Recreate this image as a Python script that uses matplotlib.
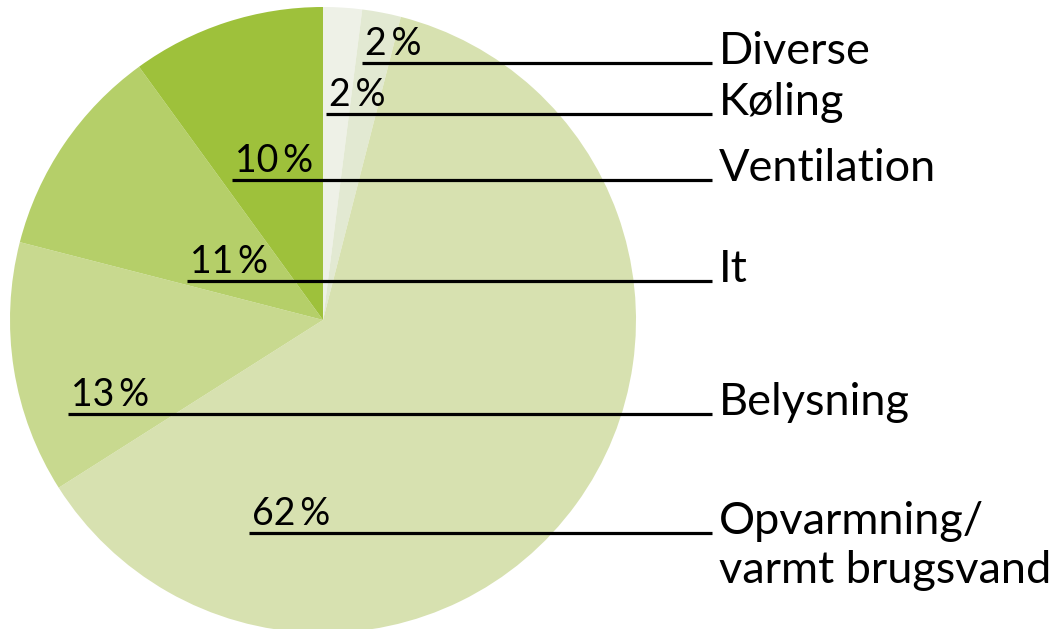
import matplotlib
matplotlib.use("Agg")
import matplotlib.pyplot as plt

# Data (clockwise from 12 o'clock)
categories = ["Diverse", "Køling", "Opvarmning/\nvarmt brugsvand", "Belysning", "It", "Ventilation"]
values = [2, 2, 62, 13, 11, 10]
colors = ["#eef1e7", "#e2e9d2", "#d7e1b0", "#c8d98f", "#b5cf69", "#9ec13b"]

W, H = 1059, 629
fig = plt.figure(figsize=(W / 100, H / 100), dpi=100)
ax = fig.add_axes([0, 0, 1, 1])

cx, cy, r = 323, H - 320, 313
ax.pie(values, colors=colors, startangle=90, counterclock=False,
       center=(cx, cy), radius=r, frame=True,
       wedgeprops=dict(linewidth=0))
ax.set_xlim(0, W)
ax.set_ylim(0, H)
ax.set_aspect("equal")
ax.axis("off")

# label layout (pixel coords from top): line y, line start x
layout = {
    "Diverse": (63, 362),
    "Køling": (114, 326),
    "Ventilation": (180, 232),
    "It": (281, 187),
    "Belysning": (414, 68),
    "Opvarmning/\nvarmt brugsvand": (533, 249),
}
line_end = 712
pfont = "Lato"
for cat, val in zip(categories, values):
    ly, lx = layout[cat]
    ax.plot([lx, line_end], [H - ly, H - ly], color="black", lw=2.3, solid_capstyle="butt")
    ax.text(lx + 3, H - ly + 8, f"{val}\u2009%", fontsize=27, family=pfont,
            color="black", ha="left", va="baseline")
    lines = cat.split("\n")
    for i, t in enumerate(lines):
        ax.text(719, H - ly - 1 - 49 * i, t, fontsize=32.5, family=pfont, color="black",
                ha="left", va="baseline")

fig.savefig("out.png", dpi=100, facecolor="white")
